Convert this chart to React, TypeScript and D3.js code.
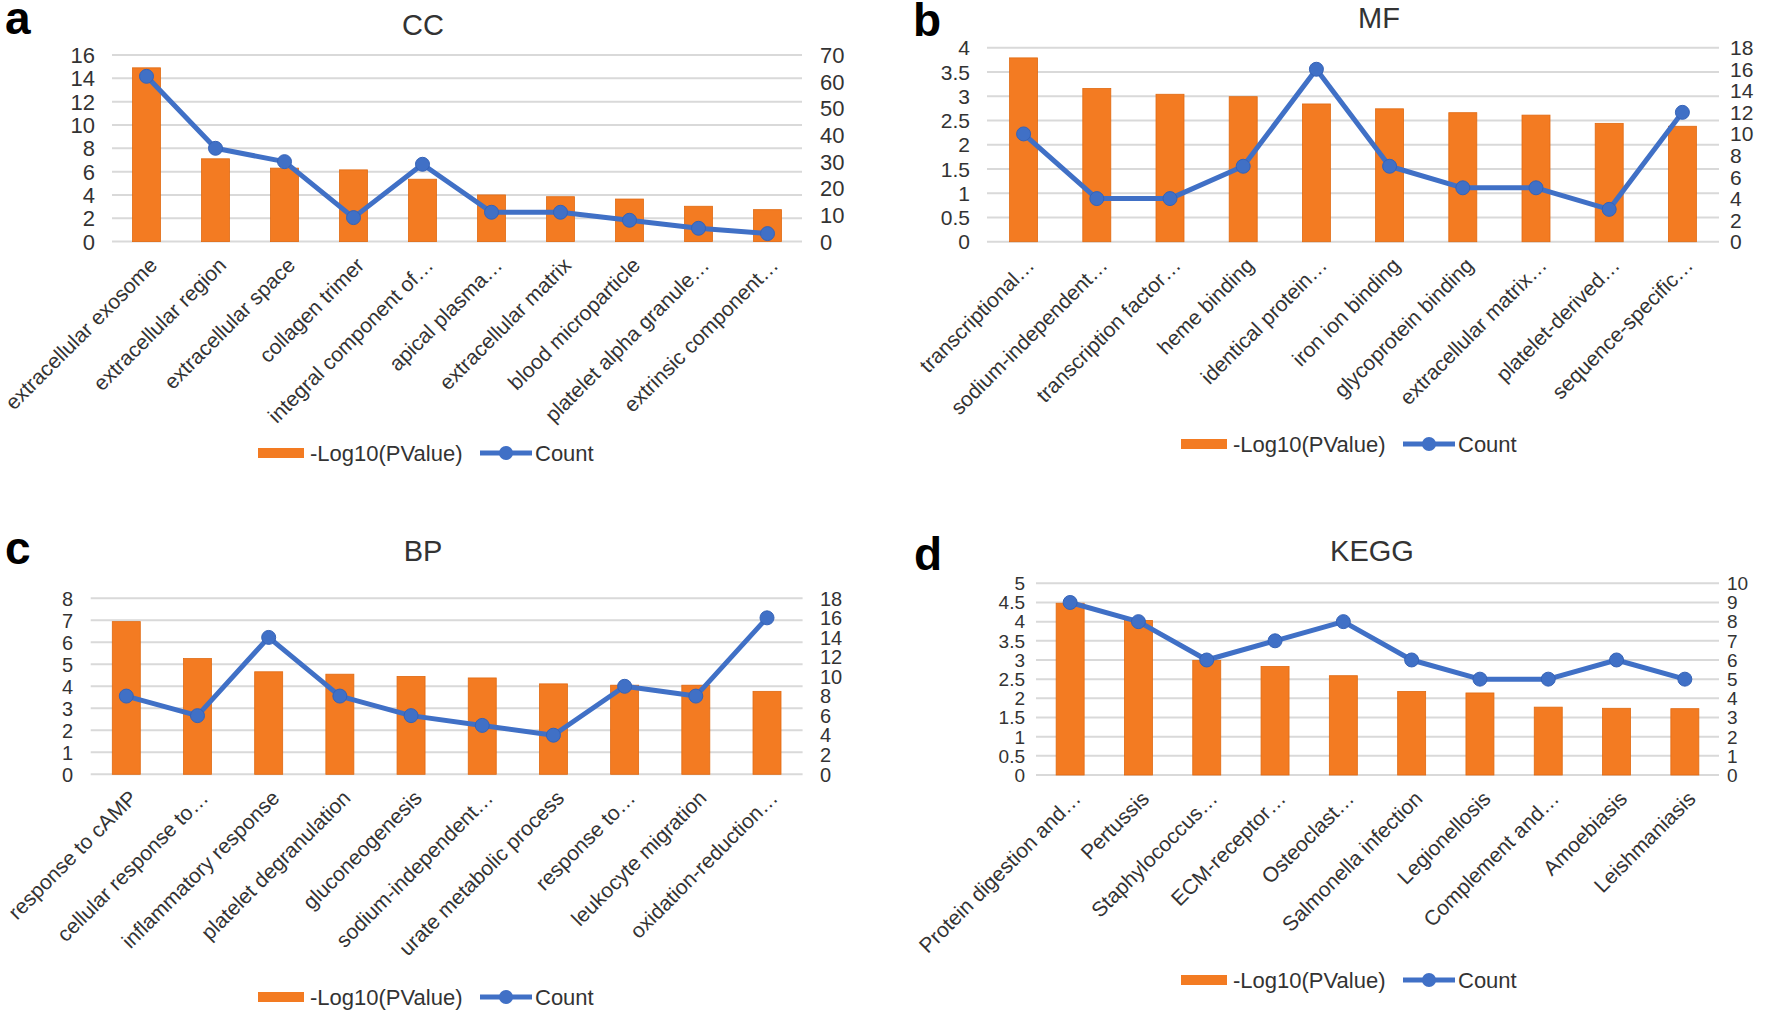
import React from "react";
import * as d3 from "d3";

// ---------- DATA ----------
const ccCategories = [
  "extracellular exosome",
  "extracellular region",
  "extracellular space",
  "collagen trimer",
  "integral component of…",
  "apical plasma…",
  "extracellular matrix",
  "blood microparticle",
  "platelet alpha granule…",
  "extrinsic component…",
];
const ccLogP = [14.9, 7.1, 6.3, 6.15, 5.35, 4.0, 3.85, 3.65, 3.03, 2.74];
const ccCount = [62, 35, 30, 9, 29, 11, 11, 8, 5, 3];

const mfCategories = [
  "transcriptional…",
  "sodium-independent…",
  "transcription factor…",
  "heme binding",
  "identical protein…",
  "iron ion binding",
  "glycoprotein binding",
  "extracellular matrix…",
  "platelet-derived…",
  "sequence-specific…",
];
const mfLogP = [3.79, 3.16, 3.04, 2.99, 2.84, 2.74, 2.66, 2.61, 2.44, 2.38];
const mfCount = [10, 4, 4, 7, 16, 7, 5, 5, 3, 12];

const bpCategories = [
  "response to cAMP",
  "cellular response to…",
  "inflammatory response",
  "platelet degranulation",
  "gluconeogenesis",
  "sodium-independent…",
  "urate metabolic process",
  "response to…",
  "leukocyte migration",
  "oxidation-reduction…",
];
const bpLogP = [6.94, 5.26, 4.66, 4.55, 4.45, 4.38, 4.11, 4.05, 4.05, 3.77];
const bpCount = [8, 6, 14, 8, 6, 5, 4, 9, 8, 16];

const keggCategories = [
  "Protein digestion and…",
  "Pertussis",
  "Staphylococcus…",
  "ECM-receptor…",
  "Osteoclast…",
  "Salmonella infection",
  "Legionellosis",
  "Complement and…",
  "Amoebiasis",
  "Leishmaniasis",
];
const keggLogP = [4.48, 4.03, 2.99, 2.83, 2.59, 2.18, 2.14, 1.77, 1.74, 1.73];
const keggCount = [9, 8, 6, 7, 8, 6, 5, 5, 6, 5];

const ccLeftTicks = [0, 2, 4, 6, 8, 10, 12, 14, 16];
const ccRightTicks = [0, 10, 20, 30, 40, 50, 60, 70];
const mfLeftTicks = [0, 0.5, 1, 1.5, 2, 2.5, 3, 3.5, 4];
const mfRightTicks = [0, 2, 4, 6, 8, 10, 12, 14, 16, 18];
const bpLeftTicks = [0, 1, 2, 3, 4, 5, 6, 7, 8];
const bpRightTicks = [0, 2, 4, 6, 8, 10, 12, 14, 16, 18];
const keggLeftTicks = [0, 0.5, 1, 1.5, 2, 2.5, 3, 3.5, 4, 4.5, 5];
const keggRightTicks = [0, 1, 2, 3, 4, 5, 6, 7, 8, 9, 10];

const legendBarLabel = "-Log10(PValue)";
const legendLineLabel = "Count";

// ---------- STYLE ----------
const NARROW = "'Liberation Sans',Arial,sans-serif";
const SANS = "'Liberation Sans',Arial,sans-serif";
const ORANGE = "#F37B22";
const ORANGE_EDGE = "#E06A12";
const BLUE = "#4070C6";
const GRID = "#D9D9D9";
const TEXT = "#333333";

type PanelProps = {
  letter: string;
  letterX: number;
  letterY: number;
  title: string;
  titleX: number;
  titleY: number;
  categories: string[];
  bars: number[];
  counts: number[];
  leftTicks: number[];
  rightTicks: number[];
  x0: number;
  x1: number;
  yTop: number;
  yZero: number;
  leftLabelX: number;
  rightLabelX: number;
  tickSize: number;
  legendX: number;
  legendY: number;
};

function Panel(p: PanelProps) {
  const leftMax = p.leftTicks[p.leftTicks.length - 1];
  const rightMax = p.rightTicks[p.rightTicks.length - 1];
  const x = d3.scaleBand<string>().domain(p.categories).range([p.x0, p.x1]).paddingInner(0).paddingOuter(0);
  const yL = d3.scaleLinear().domain([0, leftMax]).range([p.yZero, p.yTop]);
  const yR = d3.scaleLinear().domain([0, rightMax]).range([p.yZero, p.yTop]);
  const bw = 28;
  const cx = (c: string) => (x(c) as number) + x.bandwidth() / 2;
  const line = d3
    .line<number>()
    .x((_, i) => cx(p.categories[i]))
    .y((d) => yR(d));
  const fmt = (v: number) => String(+v.toFixed(2));
  const lx = p.legendX;
  const ly = p.legendY;
  return (
    <g>
      <text x={p.letterX} y={p.letterY} fontFamily={SANS} fontWeight="bold" fontSize={46} fill="#000">
        {p.letter}
      </text>
      <text x={p.titleX} y={p.titleY} fontFamily={NARROW} fontSize={29} fill={TEXT} textAnchor="middle">
        {p.title}
      </text>
      {p.leftTicks.map((t) => (
        <line key={"g" + t} x1={p.x0} x2={p.x1} y1={yL(t)} y2={yL(t)} stroke={GRID} strokeWidth={2} />
      ))}
      {p.leftTicks.map((t) => (
        <text key={"l" + t} x={p.leftLabelX} y={yL(t)} dy="0.36em" textAnchor="end" fontFamily={NARROW} fontSize={p.tickSize} fill={TEXT}>
          {fmt(t)}
        </text>
      ))}
      {p.rightTicks.map((t) => (
        <text key={"r" + t} x={p.rightLabelX} y={yR(t)} dy="0.36em" textAnchor="start" fontFamily={NARROW} fontSize={p.tickSize} fill={TEXT}>
          {fmt(t)}
        </text>
      ))}
      {p.categories.map((c, i) => (
        <rect
          key={"b" + i}
          x={cx(c) - bw / 2}
          y={yL(p.bars[i])}
          width={bw}
          height={p.yZero - yL(p.bars[i])}
          fill={ORANGE}
          stroke={ORANGE_EDGE}
          strokeWidth={0.8}
        />
      ))}
      <path d={line(p.counts) || ""} fill="none" stroke={BLUE} strokeWidth={5} strokeLinejoin="round" />
      {p.counts.map((v, i) => (
        <circle key={"m" + i} cx={cx(p.categories[i])} cy={yR(v)} r={7} fill={BLUE} stroke="#3563B8" strokeWidth={1} />
      ))}
      {p.categories.map((c, i) => (
        <text
          key={"c" + i}
          transform={`translate(${cx(c) + 12},${p.yZero + 25}) rotate(-45)`}
          textAnchor="end"
          fontFamily={SANS}
          fontSize={21}
          fill={TEXT}
        >
          {c}
        </text>
      ))}
      <rect x={lx} y={ly - 5} width={46} height={10} fill={ORANGE} />
      <text x={lx + 52} y={ly} dy="0.36em" fontFamily={NARROW} fontSize={22} fill={TEXT}>
        {legendBarLabel}
      </text>
      <line x1={lx + 222} x2={lx + 274} y1={ly} y2={ly} stroke={BLUE} strokeWidth={5} />
      <circle cx={lx + 248} cy={ly} r={7} fill={BLUE} />
      <text x={lx + 277} y={ly} dy="0.36em" fontFamily={NARROW} fontSize={22} fill={TEXT}>
        {legendLineLabel}
      </text>
    </g>
  );
}

export default function App() {
  return (
    <svg width={1770} height={1013} style={{ display: "block", position: "absolute", left: 0, top: 0, background: "#fff" }}>
      <rect width={1770} height={1013} fill="#fff" />
      <Panel
        letter="a" letterX={5} letterY={34}
        title="CC" titleX={423} titleY={35}
        categories={ccCategories} bars={ccLogP} counts={ccCount}
        leftTicks={ccLeftTicks} rightTicks={ccRightTicks}
        x0={112} x1={802} yTop={55} yZero={241.6}
        leftLabelX={95} rightLabelX={820} tickSize={22}
        legendX={258} legendY={453}
      />
      <Panel
        letter="b" letterX={913} letterY={36}
        title="MF" titleX={1379} titleY={28}
        categories={mfCategories} bars={mfLogP} counts={mfCount}
        leftTicks={mfLeftTicks} rightTicks={mfRightTicks}
        x0={987} x1={1719} yTop={47.7} yZero={241.7}
        leftLabelX={970} rightLabelX={1730} tickSize={21}
        legendX={1181} legendY={444}
      />
      <Panel
        letter="c" letterX={5} letterY={564}
        title="BP" titleX={423} titleY={561}
        categories={bpCategories} bars={bpLogP} counts={bpCount}
        leftTicks={bpLeftTicks} rightTicks={bpRightTicks}
        x0={90.7} x1={802.6} yTop={598.3} yZero={774.3}
        leftLabelX={73} rightLabelX={820} tickSize={20}
        legendX={258} legendY={997}
      />
      <Panel
        letter="d" letterX={914} letterY={570}
        title="KEGG" titleX={1372} titleY={561}
        categories={keggCategories} bars={keggLogP} counts={keggCount}
        leftTicks={keggLeftTicks} rightTicks={keggRightTicks}
        x0={1036} x1={1719} yTop={583.3} yZero={775}
        leftLabelX={1025} rightLabelX={1727} tickSize={19}
        legendX={1181} legendY={980}
      />
    </svg>
  );
}
